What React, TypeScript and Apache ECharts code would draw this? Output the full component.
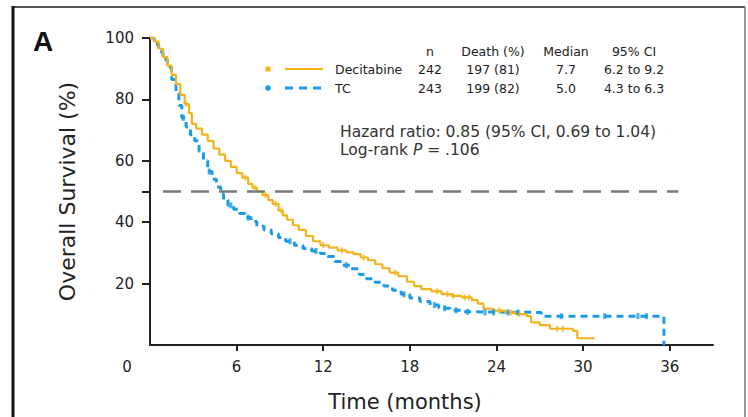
import React, { useEffect, useRef } from "react";
import * as echarts from "echarts";

// Kaplan-Meier steps (months, % surviving)
const decTime = [0, 0.3, 0.6, 0.9, 1.2, 1.5, 1.8, 2.1, 2.4, 2.7, 2.9, 3.2, 3.6, 4.0, 4.4, 4.8, 5.2, 5.6, 6.0, 6.4, 6.8, 7.1, 7.4, 7.8, 8.2, 8.5, 8.9, 9.2, 9.5, 9.9, 10.3, 10.8, 11.3, 11.8, 12.4, 13.0, 13.6, 14.1, 14.6, 15.1, 15.6, 16.1, 16.6, 17.2, 17.8, 18.3, 18.8, 19.5, 20.2, 20.9, 21.6, 22.3, 22.7, 23.1, 23.8, 24.6, 25.3, 26.1, 26.4, 27.0, 27.7, 29.3, 29.6, 30.8];
const decSurv = [100, 98.8, 96.5, 93.8, 91, 88, 85, 81.5, 78.5, 75.5, 72, 70.5, 68.5, 66.5, 64, 62, 60, 58, 56, 54.5, 52.5, 51.2, 50, 48.8, 47.2, 46, 43.8, 42.2, 40.8, 39, 37.5, 35.5, 33.8, 32.5, 31.7, 30.8, 30.2, 29.6, 28.5, 27.6, 26.3, 25, 23.6, 22.4, 20.6, 19.2, 18.2, 17.5, 16.6, 16, 15.5, 14.6, 13.5, 11.8, 11.2, 10.6, 10.1, 9.4, 7.4, 6.5, 5.3, 4.6, 2.2, 2.2];

const tcTime = [0, 0.3, 0.6, 0.9, 1.2, 1.5, 1.8, 2.0, 2.2, 2.5, 2.8, 3.1, 3.4, 3.7, 4.0, 4.3, 4.6, 4.9, 5.1, 5.4, 5.8, 6.2, 6.6, 7.0, 7.4, 7.9, 8.4, 8.9, 9.4, 10.0, 10.6, 11.2, 11.8, 12.3, 12.8, 13.3, 13.9, 14.5, 15.0, 15.6, 16.2, 16.8, 17.4, 18.0, 18.7, 19.4, 20.0, 20.8, 21.6, 22.5, 27.1, 35.6];
const tcSurv = [100, 98, 95.5, 93, 90.5, 86.5, 82, 78, 74, 71, 68.5, 66.5, 63, 60, 56.5, 54, 51.5, 49.2, 47.2, 45.5, 44.2, 42.8, 41.5, 40.2, 38.7, 37.5, 36.2, 35, 33.8, 32.5, 31.4, 30.6, 29.8, 28.8, 27.2, 26, 24.8, 23, 21.6, 20.4, 19.2, 17.8, 16.5, 15.3, 14.2, 13, 12, 11.3, 10.8, 10.6, 9.4, 0];

const decCensorTimes = [2.5, 6.6, 7.3, 8.0, 8.7, 9.1, 12.0, 13.3, 14.8, 17.0, 19.9, 20.6, 21.0, 21.8, 22.1, 24.2, 25.0, 25.6, 28.2, 28.6];
const tcCensorTimes = [2.3, 4.1, 5.6, 6.8, 9.7, 11.5, 13.6, 17.6, 19.7, 20.4, 21.2, 22.0, 23.2, 23.8, 24.8, 25.5, 28.5, 31.5, 33.8, 34.4];

const xLabelValues = [0, 6, 12, 18, 24, 30, 36];
const xTickValues = [6, 12, 18, 24, 30, 36];
const yLabelValues = [20, 40, 60, 80, 100];
const yTickValues = [20, 40, 50, 60, 80, 100];
const medianLine = 50;

const tableHeader = ["n", "Death (%)", "Median", "95% CI"];
const seriesNames = ["Decitabine", "TC"];
const tableN = ["242", "243"];
const tableDeath = ["197 (81)", "199 (82)"];
const tableMedian = ["7.7", "5.0"];
const tableCI = ["6.2 to 9.2", "4.3 to 6.3"];
const hazardText = "Hazard ratio: 0.85 (95% CI, 0.69 to 1.04)";
const logRankText = "Log-rank {i|P} = .106";

const YELLOW = "#f2b41c";
const BLUE = "#1b9be6";
const FONT = "DejaVu Sans";

function stepAt(times: number[], vals: number[], t: number) {
  let v = vals[0];
  for (let i = 0; i < times.length; i++) {
    if (times[i] <= t) v = vals[i];
  }
  return v;
}

export default function App() {
  const ref = useRef<HTMLDivElement>(null);
  useEffect(() => {
    if (!ref.current) return;
    const chart = echarts.init(ref.current, null, { renderer: "svg" });
    const decData = decTime.map((t, i) => [t, decSurv[i]]);
    const tcData = tcTime.map((t, i) => [t, tcSurv[i]]);
    const decCens = decCensorTimes.map((t) => [t, stepAt(decTime, decSurv, t)]);
    const tcCens = tcCensorTimes.map((t) => [t, stepAt(tcTime, tcSurv, t)]);

    const colX = [430, 493, 566, 634];
    const rowY = [69, 88];
    const g: any[] = [];
    // frame
    g.push({ type: "line", shape: { x1: 13, y1: 7, x2: 745, y2: 7 }, style: { stroke: "#555", lineWidth: 2 } });
    g.push({ type: "line", shape: { x1: 745, y1: 7, x2: 745, y2: 417 }, style: { stroke: "#777", lineWidth: 1.5 } });
    g.push({ type: "line", shape: { x1: 13, y1: 6, x2: 13, y2: 417 }, style: { stroke: "#111", lineWidth: 3 } });
    g.push({ type: "text", x: 33, y: 41, style: { text: "A", font: "bold 28px 'Liberation Sans', Arial", fill: "#111", verticalAlign: "middle", align: "left" } });
    tableHeader.forEach((h, i) => {
      g.push({ type: "text", x: colX[i], y: 51, style: { text: h, font: `12.5px '${FONT}'`, fill: "#222", align: "center", verticalAlign: "middle" } });
    });
    seriesNames.forEach((name, r) => {
      const y = rowY[r];
      const color = r === 0 ? YELLOW : BLUE;
      if (r === 0) {
        g.push({ type: "rect", shape: { x: 265.5, y: y - 2.5, width: 5, height: 5 }, style: { fill: color } });
        g.push({ type: "line", shape: { x1: 285, y1: y, x2: 323, y2: y }, style: { stroke: color, lineWidth: 2.2 } });
      } else {
        g.push({ type: "circle", shape: { cx: 268, cy: y, r: 2.8 }, style: { fill: color } });
        g.push({ type: "line", shape: { x1: 285, y1: y, x2: 323, y2: y }, style: { stroke: color, lineWidth: 3, lineDash: [8, 6] } });
      }
      g.push({ type: "text", x: 335, y, style: { text: name, font: `12.5px '${FONT}'`, fill: "#222", align: "left", verticalAlign: "middle" } });
      [tableN[r], tableDeath[r], tableMedian[r], tableCI[r]].forEach((v, i) => {
        g.push({ type: "text", x: colX[i], y, style: { text: v, font: `12.5px '${FONT}'`, fill: "#222", align: "center", verticalAlign: "middle" } });
      });
    });
    g.push({ type: "text", x: 340, y: 132, style: { text: hazardText, font: `15.5px '${FONT}'`, fill: "#333", align: "left", verticalAlign: "middle" } });
    g.push({
      type: "text",
      x: 340,
      y: 150,
      style: {
        text: logRankText,
        font: `15.5px '${FONT}'`,
        fill: "#333",
        align: "left",
        verticalAlign: "middle",
        rich: { i: { fontFamily: FONT, fontSize: 15.5, fontStyle: "italic", fill: "#333" } },
      },
    });

    chart.setOption({
      animation: false,
      grid: { left: 150, right: 35, top: 38, bottom: 71 },
      xAxis: {
        type: "value",
        min: 0,
        max: 39,
        name: "Time (months)",
        nameLocation: "middle",
        nameGap: 46,
        nameTextStyle: { fontFamily: FONT, fontSize: 21, color: "#222", padding: [0, 53, 0, 0] },
        axisLine: { show: true, lineStyle: { color: "#222", width: 2 } },
        axisTick: { show: true, length: 6, customValues: xTickValues, lineStyle: { color: "#222", width: 2 } },
        axisLabel: {
          customValues: xLabelValues,
          margin: 14,
          fontFamily: FONT,
          fontSize: 15,
          color: "#222",
          formatter: (v: number) => (v === 0 ? "{z|0}" : String(v)),
          rich: { z: { fontFamily: FONT, fontSize: 15, color: "#222", padding: [0, 46, 0, 0] } },
        },
        splitLine: { show: false },
      },
      yAxis: {
        type: "value",
        min: 0,
        max: 100,
        name: "Overall Survival (%)",
        nameLocation: "middle",
        nameGap: 72,
        nameTextStyle: { fontFamily: FONT, fontSize: 22, color: "#222" },
        axisLine: { show: true, lineStyle: { color: "#222", width: 2 } },
        axisTick: { show: true, length: 8, customValues: yTickValues, lineStyle: { color: "#222", width: 2 } },
        axisLabel: { customValues: yLabelValues, margin: 16, fontFamily: FONT, fontSize: 15, color: "#222" },
        splitLine: { show: false },
      },
      graphic: g,
      series: [
        {
          name: "TC",
          type: "line",
          step: "end",
          data: tcData,
          showSymbol: false,
          lineStyle: { color: BLUE, width: 3, type: [7, 5] },
          z: 3,
        },
        {
          name: "Decitabine",
          type: "line",
          step: "end",
          data: decData,
          showSymbol: false,
          lineStyle: { color: YELLOW, width: 2.2 },
          z: 4,
          markLine: {
            silent: true,
            symbol: "none",
            label: { show: false },
            lineStyle: { color: "#7a7a7a", width: 2.5, type: [18, 10] },
            data: [[{ coord: [0.9, medianLine] }, { coord: [36.6, medianLine] }]],
          },
        },
        {
          type: "scatter",
          data: tcCens,
          symbol: "rect",
          symbolSize: [3, 6],
          itemStyle: { color: BLUE },
          z: 5,
        },
        {
          type: "scatter",
          data: decCens,
          symbol: "rect",
          symbolSize: [2, 6],
          itemStyle: { color: YELLOW },
          z: 6,
        },
      ],
    });
    return () => chart.dispose();
  }, []);
  return <div ref={ref} style={{ position: "fixed", left: 0, top: 0, width: 748, height: 417, background: "#fff" }} />;
}
